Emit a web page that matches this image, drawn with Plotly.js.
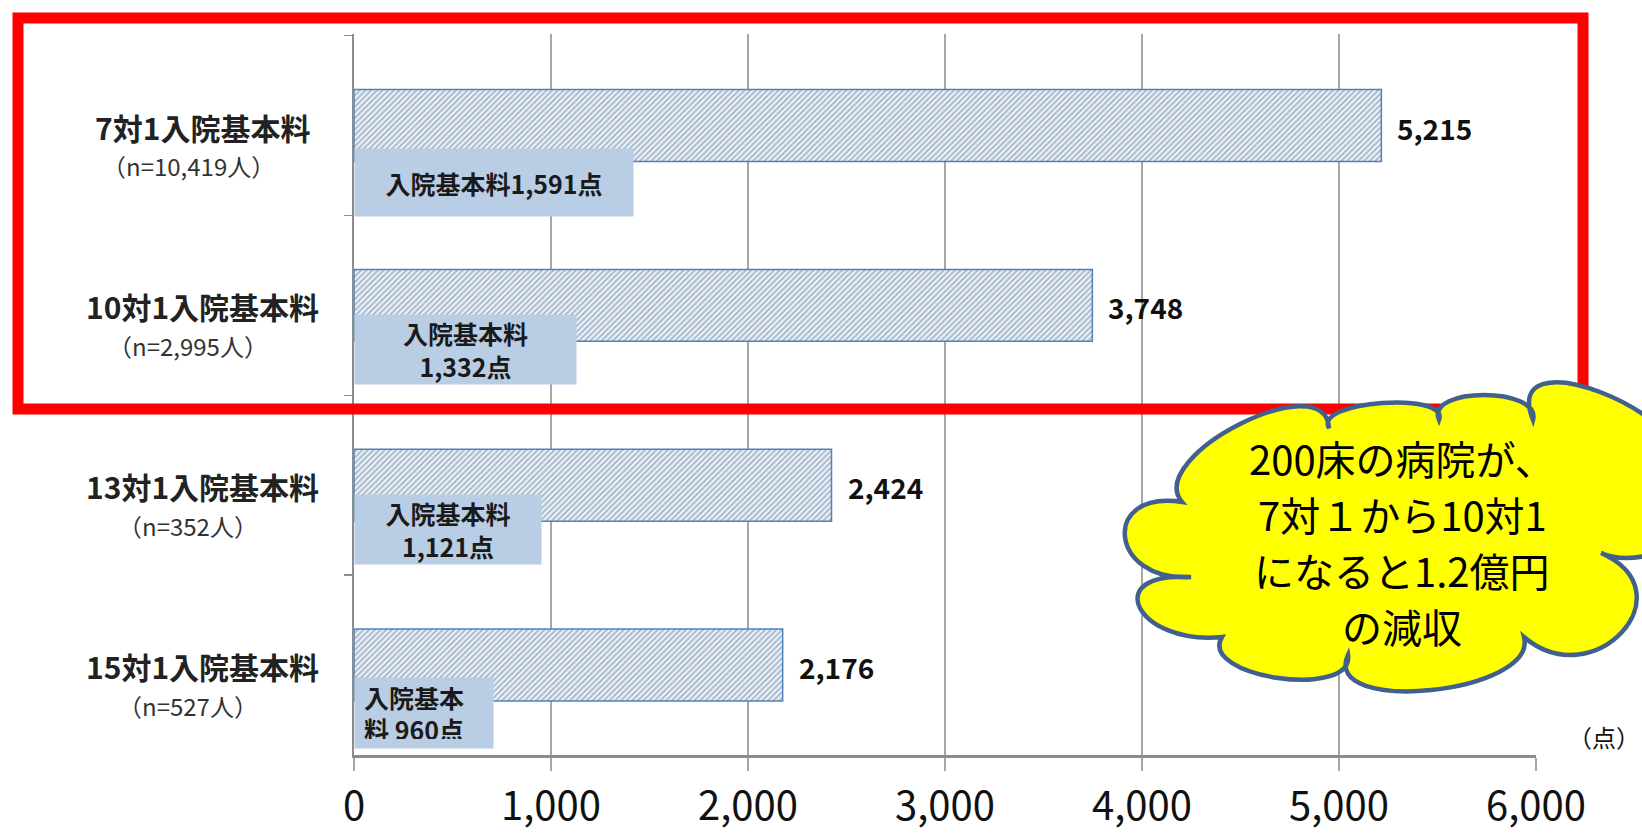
<!DOCTYPE html>
<html>
<head>
<meta charset="utf-8">
<script src="https://cdn.plot.ly/plotly-3.0.1.min.js"></script>
<style>html,body{margin:0;padding:0;background:#fff;}#chart{width:1642px;height:834px;}</style>
</head>
<body>
<div id="chart"></div>
<script>
// ---- data ----
const categories = ['7対1入院基本料', '10対1入院基本料', '13対1入院基本料', '15対1入院基本料'];
const sampleSizes = ['（n=10,419人）', '（n=2,995人）', '（n=352人）', '（n=527人）'];
const totalPoints = [5215, 3748, 2424, 2176];
const basicFeePoints = [1591, 1332, 1121, 960];
const basicFeeLabels = ['入院基本料1,591点', '入院基本料<br>1,332点', '入院基本料<br>1,121点', '入院基本<br>料 960点'];
const xTickVals = [0, 1000, 2000, 3000, 4000, 5000, 6000];
const xTickText = ['0', '1,000', '2,000', '3,000', '4,000', '5,000', '6,000'];
const unitLabel = '（点）';
const calloutLines = ['200床の病院が、', '7対１から10対1', 'になると1.2億円', 'の減収'];

// ---- layout geometry (pixels) ----
const W = 1642, H = 834;
const L = 354, R = 1536, T = 34, B = 755;
const PW = R - L, PH = B - T;
const px2x = p => (p - L) / PW;
const py2y = p => 1 - (p - T) / PH;

const FONT = 'Noto Sans CJK JP, Noto Sans, sans-serif';

// label box styling (sizes in px)
const boxWidth = [278, 221, 186, 120];
const boxHeight = [67, 69, 69, 52];
const boxPad = [0, 0, 0, 9];
const boxAlign = ['center', 'center', 'center', 'left'];
const boxShift = [-57, -44, -44, -48];
const calloutLineY = [458, 514, 570, 626];

const fmt = v => v.toLocaleString('en-US');

const bars = {
  type: 'bar',
  orientation: 'h',
  y: categories,
  x: totalPoints,
  width: 0.4,
  marker: {
    color: '#F2F5F9',
    line: { color: '#4F81BD', width: 1.5 },
    pattern: { shape: '/', fgcolor: '#A6B8CC', bgcolor: '#F2F5F9', size: 4, solidity: 0.48 }
  },
  hoverinfo: 'skip',
  showlegend: false
};

const annotations = [];
categories.forEach((c, i) => {
  annotations.push({
    xref: 'paper', yref: 'y', x: px2x(202), y: c, xanchor: 'center', yanchor: 'middle',
    yshift: -1, text: '<b>' + c + '</b>', showarrow: false,
    font: { family: FONT, size: 30, color: '#222' }
  });
  annotations.push({
    xref: 'paper', yref: 'y', x: px2x(188), y: c, xanchor: 'center', yanchor: 'middle',
    yshift: -40, text: sampleSizes[i], showarrow: false,
    font: { family: FONT, size: 24, color: '#333' }
  });
  annotations.push({
    xref: 'x', yref: 'y', x: totalPoints[i], y: c, xanchor: 'left', yanchor: 'middle',
    xshift: 14, yshift: -2, text: '<b>' + fmt(totalPoints[i]) + '</b>', showarrow: false,
    font: { family: FONT, size: 28, color: '#111' }
  });
  annotations.push({
    xref: 'x', yref: 'y', x: 0, y: c, xanchor: 'left', yanchor: 'middle',
    yshift: boxShift[i], text: '<b>' + basicFeeLabels[i] + '</b>', showarrow: false,
    width: boxWidth[i], height: boxHeight[i], borderpad: boxPad[i], align: boxAlign[i], valign: 'middle',
    bgcolor: '#B9CDE5', font: { family: FONT, size: 25, color: '#1a1a1a' }
  });
});

annotations.push({
  xref: 'paper', yref: 'paper', x: px2x(1566), y: py2y(736), xanchor: 'left', yanchor: 'middle',
  text: unitLabel, showarrow: false, font: { family: FONT, size: 24, color: '#111' }
});
calloutLines.forEach((t, i) => {
  annotations.push({
    xref: 'paper', yref: 'paper', x: px2x(1402), y: py2y(calloutLineY[i]), xanchor: 'center', yanchor: 'middle',
    text: t, showarrow: false, font: { family: FONT, size: 40, color: '#000' }
  });
});

// ---- cloud callout path ----
const bumps = [
  [[1182, 502], [1329, 428], [1240, 424]],
  [[1329, 428], [1439, 420], [1382, 403]],
  [[1439, 420], [1533, 420], [1484, 395]],
  [[1533, 420], [1690, 480], [1600, 392]],
  [[1690, 480], [1601, 553], [1700, 530]],
  [[1601, 553], [1524, 637], [1622, 632]],
  [[1524, 637], [1348, 655], [1431, 690]],
  [[1348, 655], [1222, 637], [1278, 678]],
  [[1222, 637], [1191, 577], [1140, 608]],
  [[1191, 577], [1182, 502], [1125, 537]]
];
function cloudPath() {
  const P = (x, y) => px2x(x).toFixed(5) + ',' + py2y(y).toFixed(5);
  let d = 'M' + P(bumps[0][0][0], bumps[0][0][1]);
  const s = 0.12;
  bumps.forEach(([a, b, pk]) => {
    const mx = (a[0] + b[0]) / 2, my = (a[1] + b[1]) / 2;
    const vx = (pk[0] - mx) / 0.75, vy = (pk[1] - my) / 0.75;
    const dx = b[0] - a[0], dy = b[1] - a[1];
    const c1 = [a[0] + vx - s * dx, a[1] + vy - s * dy];
    const c2 = [b[0] + vx + s * dx, b[1] + vy + s * dy];
    d += ' C' + P(c1[0], c1[1]) + ' ' + P(c2[0], c2[1]) + ' ' + P(b[0], b[1]);
  });
  return d + ' Z';
}

const shapes = [
  {
    type: 'rect', xref: 'paper', yref: 'paper', layer: 'above',
    x0: px2x(18), x1: px2x(1583), y0: py2y(18), y1: py2y(409),
    line: { color: '#FF0000', width: 11 }, fillcolor: 'rgba(0,0,0,0)'
  },
  {
    type: 'path', xref: 'paper', yref: 'paper', layer: 'above',
    path: cloudPath(), fillcolor: '#FFFF00', line: { color: '#41618C', width: 4.5 }
  }
];

const layout = {
  width: W, height: H,
  margin: { l: L, r: W - R, t: T, b: H - B, pad: 0 },
  paper_bgcolor: '#fff', plot_bgcolor: '#fff',
  font: { family: FONT },
  showlegend: false,
  xaxis: {
    range: [0, 6000], tickvals: xTickVals, ticktext: xTickText,
    showgrid: true, gridcolor: '#A6A6A6', gridwidth: 1.5, zeroline: false,
    showline: true, linecolor: '#8C8C8C', linewidth: 3,
    ticks: 'outside', ticklen: 13, tickcolor: '#A6A6A6', tickwidth: 1.5,
    ticklabelstandoff: 1,
    tickfont: { family: FONT, size: 40, color: '#111' }, fixedrange: true
  },
  yaxis: {
    type: 'category', categoryorder: 'array', categoryarray: categories,
    autorange: 'reversed', showticklabels: false, showgrid: false, zeroline: false,
    ticks: 'outside', tickson: 'boundaries', ticklen: 8, tickcolor: '#8C8C8C', tickwidth: 1.5,
    showline: true, linecolor: '#8C8C8C', linewidth: 2, fixedrange: true
  },
  annotations: annotations,
  shapes: shapes
};

Plotly.newPlot('chart', [bars], layout, { staticPlot: true, displayModeBar: false });
</script>
</body>
</html>
